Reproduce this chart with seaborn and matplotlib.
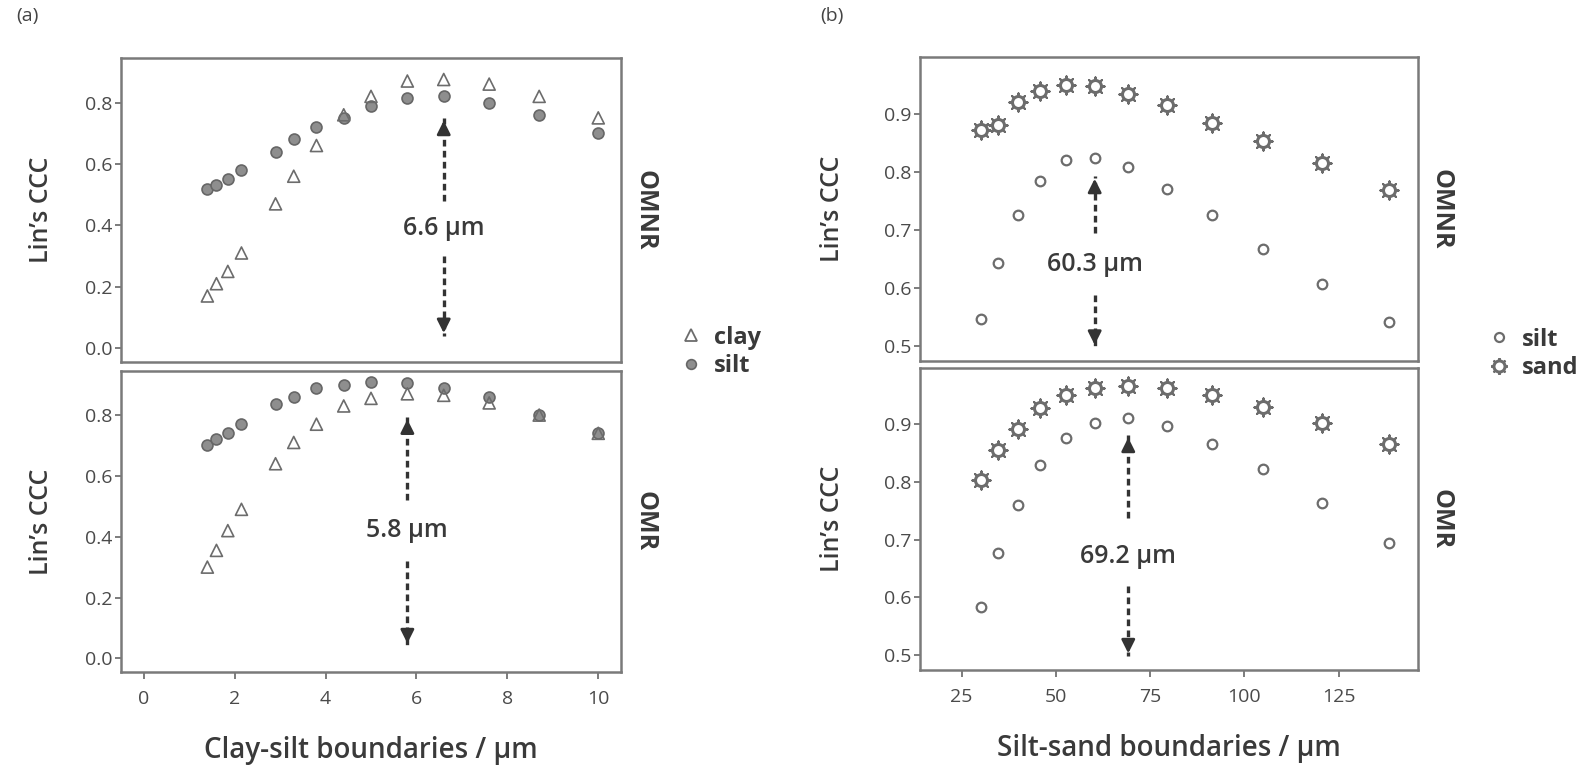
import numpy as np
import pandas as pd
import matplotlib
matplotlib.use("Agg")
import matplotlib.pyplot as plt
import seaborn as sns
from matplotlib.lines import Line2D

sns.set_theme(style="white")
plt.rcParams["font.family"] = ["Open Sans", "DejaVu Sans"]

# ---------------- data ----------------
cs_bounds = [1.4, 1.6, 1.85, 2.15, 2.9, 3.3, 3.8, 4.4, 5.0, 5.8, 6.6, 7.6, 8.7, 10.0]
omnr_clay = [0.17, 0.21, 0.25, 0.31, 0.47, 0.56, 0.66, 0.76, 0.82, 0.87, 0.875, 0.86, 0.82, 0.75]
omnr_silt_a = [0.52, 0.53, 0.55, 0.58, 0.64, 0.68, 0.72, 0.75, 0.79, 0.815, 0.82, 0.80, 0.76, 0.70]
omr_clay = [0.30, 0.355, 0.42, 0.49, 0.64, 0.71, 0.77, 0.83, 0.855, 0.87, 0.865, 0.84, 0.80, 0.74]
omr_silt_a = [0.70, 0.72, 0.74, 0.77, 0.835, 0.86, 0.89, 0.90, 0.91, 0.905, 0.89, 0.86, 0.80, 0.74]

ss_bounds = [30.2, 34.7, 39.9, 45.8, 52.6, 60.3, 69.2, 79.5, 91.3, 104.9, 120.5, 138.4]
omnr_silt_b = [0.546, 0.643, 0.725, 0.785, 0.82, 0.824, 0.808, 0.77, 0.725, 0.667, 0.606, 0.542]
omnr_sand = [0.872, 0.88, 0.92, 0.94, 0.95, 0.948, 0.935, 0.916, 0.885, 0.854, 0.816, 0.768]
omr_silt_b = [0.583, 0.677, 0.761, 0.829, 0.877, 0.903, 0.912, 0.898, 0.867, 0.823, 0.764, 0.694]
omr_sand = [0.804, 0.856, 0.893, 0.928, 0.951, 0.963, 0.967, 0.964, 0.952, 0.931, 0.903, 0.867]

facets = ["OMNR", "OMR"]
optimum_a = [6.6, 5.8]      # best clay-silt boundary per facet
optimum_b = [60.3, 69.2]    # best silt-sand boundary per facet
xticks_a = [0, 2, 4, 6, 8, 10]
xticks_b = [25, 50, 75, 100, 125]
yticks_a = [0.0, 0.2, 0.4, 0.6, 0.8]
yticks_b = [0.5, 0.6, 0.7, 0.8, 0.9]

# ---------------- figure ----------------
W, H = 1594, 769
fig = plt.figure(figsize=(W / 100, H / 100), dpi=100)
fig.patch.set_facecolor("white")

def px_axes(x0, y0, x1, y1):
    return fig.add_axes([x0 / W, 1 - y1 / H, (x1 - x0) / W, (y1 - y0) / H])

axes_a = [px_axes(121, 58, 621, 362), px_axes(121, 371, 621, 672)]
axes_b = [px_axes(920, 57, 1418, 361), px_axes(920, 368, 1418, 670)]

EDGE = "#6c6c6c"
SPINE = "#7a7a7a"
TXT = "#3a3a3a"
ARR = "#333333"

def style(ax, xlim, ylim, yticks, xticks, bottom):
    ax.set_xlim(*xlim)
    ax.set_ylim(*ylim)
    ax.set_facecolor("white")
    for s in ax.spines.values():
        s.set_visible(True)
        s.set_color(SPINE)
        s.set_linewidth(1.8)
    ax.set_yticks(yticks)
    ax.set_yticklabels([f"{v:.1f}" for v in yticks])
    ax.tick_params(axis="y", left=True, length=4, width=1.2, color="#666666",
                   labelsize=14, labelcolor="#4a4a4a", pad=2)
    ax.set_xticks(xticks)
    if bottom:
        ax.tick_params(axis="x", bottom=True, length=5, width=1.2, color="#666666",
                       labelsize=14, labelcolor="#4a4a4a", pad=8)
    else:
        ax.tick_params(axis="x", bottom=False, labelbottom=False)
    ax.set_xlabel("")
    ax.set_ylabel("Lin\u2019s CCC", fontsize=18, color=TXT, fontweight="semibold")
    ax.grid(False)

def arrows(ax, x, y_up0, y_up1, y_txt, y_dn0, y_dn1, label):
    ax.plot([x, x], [y_up0, y_up1], color=ARR, lw=2.4, ls=(0, (2.0, 1.3)))
    ax.plot([x, x], [y_dn0, y_dn1], color=ARR, lw=2.4, ls=(0, (2.0, 1.3)))
    ax.annotate("", xy=(x, y_up1), xytext=(0, -10), textcoords="offset points",
                arrowprops=dict(arrowstyle="-|>", color=ARR, lw=2, mutation_scale=20))
    ax.annotate("", xy=(x, y_dn1), xytext=(0, 10), textcoords="offset points",
                arrowprops=dict(arrowstyle="-|>", color=ARR, lw=2, mutation_scale=20))
    ax.text(x, y_txt, label, ha="center", va="center", fontsize=18, color=TXT,
            fontweight="semibold")

# ----- panel (a) -----
clay_sets = [omnr_clay, omr_clay]
silt_a_sets = [omnr_silt_a, omr_silt_a]
arrow_a = [(0.48, 0.75, 0.39, 0.30, 0.04), (0.52, 0.795, 0.42, 0.32, 0.04)]
for i, ax in enumerate(axes_a):
    df = pd.DataFrame({"boundary": cs_bounds, "clay": clay_sets[i], "silt": silt_a_sets[i]})
    sns.scatterplot(data=df, x="boundary", y="silt", ax=ax, marker="o", s=62,
                    color="#8e8e8e", edgecolor="#666666", linewidth=1.2, legend=False, zorder=3)
    sns.scatterplot(data=df, x="boundary", y="clay", ax=ax, marker="^", s=75,
                    facecolor="none", edgecolor=EDGE, linewidth=1.2, legend=False, zorder=4)
    style(ax, (-0.5, 10.5), (-0.045, 0.945), yticks_a, xticks_a, bottom=(i == 1))
    ax.yaxis.set_label_coords(-0.135, 0.5)
    a = arrow_a[i]
    arrows(ax, optimum_a[i], a[0], a[1], a[2], a[3], a[4], f"{optimum_a[i]} \u00b5m")
    ax.text(1.022, 0.5, facets[i], transform=ax.transAxes, rotation=-90,
            ha="left", va="center", fontsize=18, color=TXT, fontweight="bold")
axes_a[1].set_xlabel("Clay-silt boundaries / \u00b5m", fontsize=20, color=TXT,
                     fontweight="semibold", labelpad=20)

# ----- panel (b) -----
silt_b_sets = [omnr_silt_b, omr_silt_b]
sand_sets = [omnr_sand, omr_sand]
arrow_b = [(0.694, 0.793, 0.64, 0.588, 0.497), (0.738, 0.882, 0.671, 0.62, 0.498)]
for i, ax in enumerate(axes_b):
    df = pd.DataFrame({"boundary": ss_bounds, "silt": silt_b_sets[i], "sand": sand_sets[i]})
    sns.scatterplot(data=df, x="boundary", y="sand", ax=ax, marker=(8, 2, 0), s=170,
                    color=EDGE, linewidth=1.5, legend=False, zorder=3)
    sns.scatterplot(data=df, x="boundary", y="sand", ax=ax, marker="o", s=75,
                    facecolor="white", edgecolor=EDGE, linewidth=2.2, legend=False, zorder=4)
    sns.scatterplot(data=df, x="boundary", y="silt", ax=ax, marker="o", s=48,
                    facecolor="white", edgecolor=EDGE, linewidth=1.6, legend=False, zorder=4)
    style(ax, (14, 146), (0.474, 0.998), yticks_b, xticks_b, bottom=(i == 1))
    ax.yaxis.set_label_coords(-0.15, 0.5)
    a = arrow_b[i]
    arrows(ax, optimum_b[i], a[0], a[1], a[2], a[3], a[4], f"{optimum_b[i]} \u00b5m")
    ax.text(1.022, 0.5, facets[i], transform=ax.transAxes, rotation=-90,
            ha="left", va="center", fontsize=18, color=TXT, fontweight="bold")
axes_b[1].set_xlabel("Silt-sand boundaries / \u00b5m", fontsize=20, color=TXT,
                     fontweight="semibold", labelpad=20)

# ----- legends -----
h_clay = Line2D([], [], ls="", marker="^", ms=8, mfc="none", mec=EDGE, mew=1.3)
h_silt_a = Line2D([], [], ls="", marker="o", ms=7, mfc="#8e8e8e", mec="#666666", mew=1.2)
fig.legend([h_clay, h_silt_a], ["clay", "silt"], loc="center left",
           bbox_to_anchor=(656 / W, 1 - 352 / H), frameon=False,
           handletextpad=0.35, labelspacing=0.2, handlelength=1.2,
           prop={"weight": "bold", "size": 17})
h_silt_b = Line2D([], [], ls="", marker="o", ms=6.5, mfc="white", mec=EDGE, mew=1.6)
h_sand1 = Line2D([], [], ls="", marker=(8, 2, 0), ms=12, mec=EDGE, mew=1.5)
h_sand2 = Line2D([], [], ls="", marker="o", ms=8, mfc="white", mec=EDGE, mew=2.2)
fig.legend([h_silt_b, (h_sand1, h_sand2)], ["silt", "sand"], loc="center left",
           bbox_to_anchor=(1464 / W, 1 - 354 / H), frameon=False,
           handletextpad=0.35, labelspacing=0.2, handlelength=1.2,
           prop={"weight": "bold", "size": 17})
for leg in fig.legends:
    for t in leg.get_texts():
        t.set_color(TXT)

fig.text(16 / W, 1 - 16 / H, "(a)", fontsize=14, color="#444444", va="center")
fig.text(820 / W, 1 - 16 / H, "(b)", fontsize=14, color="#444444", va="center")

fig.savefig("out.png", dpi=100, facecolor="white")
